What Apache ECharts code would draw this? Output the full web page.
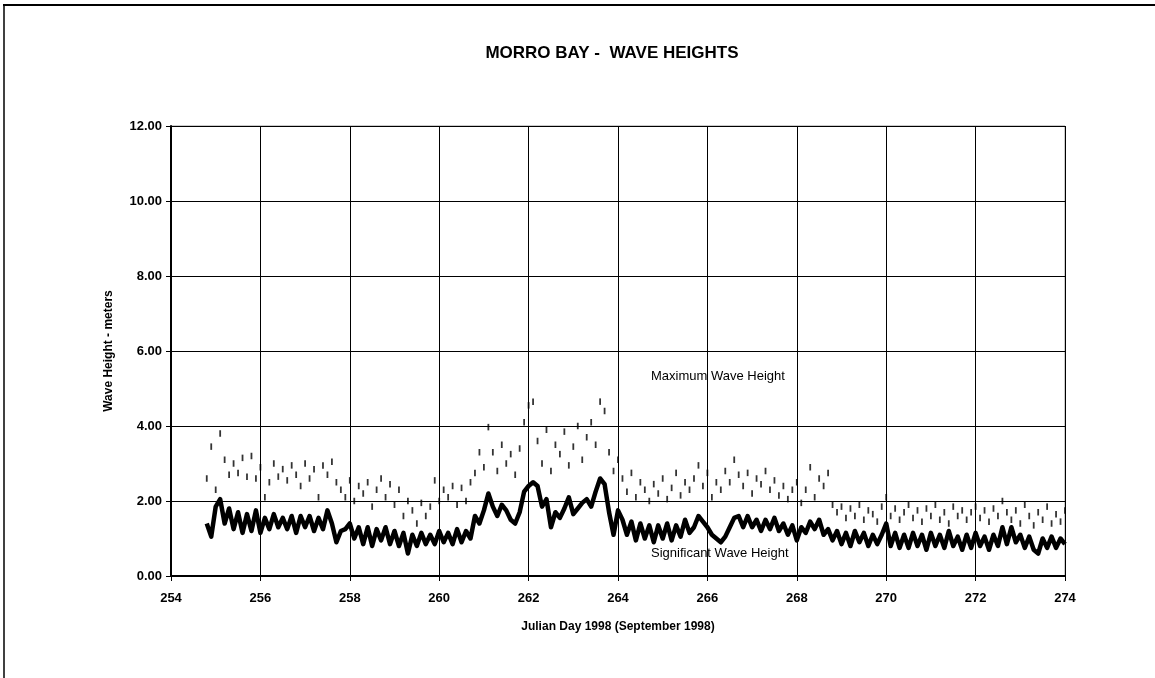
<!DOCTYPE html>
<html>
<head>
<meta charset="utf-8">
<script src="https://cdn.jsdelivr.net/npm/echarts@6/dist/echarts.min.js"></script>
<style>html,body{margin:0;padding:0;background:#fff;}#c{width:1155px;height:678px;}</style>
</head>
<body>
<div id="c"></div>
<script>
// Sampling: Julian day 254.8 to 274.0, every 0.1 day
const startDay = 254.8;
const stepDay = 0.1;
const xTicks = [254, 256, 258, 260, 262, 264, 266, 268, 270, 272, 274];
const yTicks = [0, 2, 4, 6, 8, 10, 12];

const significantHeight = [
  1.4, 1.05, 1.85, 2.05, 1.4, 1.8, 1.25, 1.7, 1.15, 1.65,
  1.2, 1.75, 1.15, 1.55, 1.25, 1.65, 1.3, 1.55, 1.25, 1.6,
  1.15, 1.6, 1.3, 1.6, 1.2, 1.55, 1.25, 1.75, 1.4, 0.9,
  1.2, 1.25, 1.4, 1.0, 1.3, 0.85, 1.3, 0.8, 1.25, 0.95,
  1.3, 0.85, 1.2, 0.8, 1.15, 0.6, 1.1, 0.8, 1.15, 0.85,
  1.1, 0.85, 1.2, 0.9, 1.15, 0.85, 1.25, 0.9, 1.2, 1.0,
  1.6, 1.4, 1.75, 2.2, 1.85, 1.6, 1.9, 1.75, 1.5, 1.4,
  1.7, 2.25, 2.4, 2.5, 2.4, 1.85, 2.05, 1.3, 1.7, 1.55,
  1.8, 2.1, 1.65, 1.8, 1.95, 2.05, 1.85, 2.25, 2.6, 2.45,
  1.7, 1.1, 1.75, 1.5, 1.1, 1.45, 0.95, 1.4, 1.0, 1.35,
  0.9, 1.35, 1.0, 1.4, 0.95, 1.35, 1.05, 1.5, 1.15, 1.3,
  1.6, 1.45, 1.3, 1.1, 1.0, 0.9, 1.05, 1.3, 1.55, 1.6,
  1.3, 1.6, 1.3, 1.5, 1.2, 1.5, 1.25, 1.55, 1.2, 1.4,
  1.1, 1.35, 0.95, 1.3, 1.15, 1.45, 1.25, 1.5, 1.1, 1.25,
  0.95, 1.2, 0.85, 1.15, 0.8, 1.2, 0.9, 1.15, 0.8, 1.1,
  0.85, 1.1, 1.4, 0.8, 1.15, 0.75, 1.1, 0.75, 1.15, 0.8,
  1.1, 0.7, 1.15, 0.8, 1.1, 0.75, 1.2, 0.8, 1.05, 0.7,
  1.1, 0.75, 1.15, 0.8, 1.05, 0.7, 1.1, 0.8, 1.3, 0.85,
  1.3, 0.9, 1.1, 0.75, 1.05, 0.7, 0.6, 1.0, 0.75, 1.05,
  0.75, 1.0, 0.85
];

const maximumHeight = [
  2.6, 3.45, 2.3, 3.8, 3.1, 2.7, 3.0, 2.75, 3.15, 2.65,
  3.2, 2.6, 2.9, 2.1, 2.5, 3.0, 2.65, 2.85, 2.55, 2.95,
  2.7, 2.4, 3.0, 2.6, 2.85, 2.1, 2.95, 2.7, 3.05, 2.5,
  2.3, 2.1, 2.55, 2.0, 2.4, 2.2, 2.5, 1.85, 2.3, 2.6,
  2.1, 2.45, 1.9, 2.3, 1.6, 2.0, 1.75, 1.4, 1.95, 1.6,
  1.85, 2.55, 2.0, 2.3, 2.1, 2.4, 1.9, 2.35, 2.0, 2.5,
  2.75, 3.3, 2.9, 3.97, 3.3, 2.8, 3.5, 3.0, 3.25, 2.7,
  3.4, 4.1, 4.55, 4.65, 3.6, 3.0, 3.9, 2.8, 3.5, 3.25,
  3.85, 2.95, 3.45, 4.0, 3.1, 3.7, 4.1, 3.5, 4.65, 4.4,
  3.3, 2.8, 3.1, 2.6, 2.25, 2.75, 2.1, 2.5, 2.3, 2.0,
  2.45, 2.2, 2.6, 2.05, 2.35, 2.75, 2.15, 2.5, 2.3, 2.6,
  2.95, 2.4, 2.75, 2.1, 2.5, 2.3, 2.8, 2.5, 3.1, 2.7,
  2.4, 2.75, 2.2, 2.6, 2.45, 2.8, 2.3, 2.55, 2.15, 2.4,
  2.05, 2.3, 2.5, 1.95, 2.3, 2.9, 2.1, 2.6, 2.4, 2.75,
  1.9, 1.7, 1.85, 1.55, 1.8, 1.6, 1.9, 1.5, 1.75, 1.65,
  1.45, 1.85, 2.1, 1.6, 1.8, 1.5, 1.7, 1.9, 1.55, 1.75,
  1.45, 1.8, 1.6, 1.9, 1.5, 1.7, 1.4, 1.85, 1.6, 1.75,
  1.5, 1.7, 1.85, 1.55, 1.75, 1.45, 1.8, 1.6, 2.0, 1.7,
  1.5, 1.75, 1.4, 1.9, 1.6, 1.35, 1.7, 1.5, 1.85, 1.4,
  1.65, 1.45, 1.75
];

const days = significantHeight.map((_, i) => +(startDay + i * stepDay).toFixed(2));
const sigData = days.map((d, i) => [d, significantHeight[i]]);
const maxData = days.map((d, i) => [d, maximumHeight[i]]);

const FONT = "'Liberation Sans', Arial, sans-serif";
const chart = echarts.init(document.getElementById('c'), null, {renderer: 'canvas'});
chart.setOption({
  backgroundColor: '#ffffff',
  animation: false,
  title: {
    text: 'MORRO BAY -  WAVE HEIGHTS',
    left: 607, top: 40, textAlign: 'center',
    textStyle: {fontFamily: FONT, fontSize: 17, fontWeight: 'bold', color: '#000'}
  },
  grid: {left: 171, right: 90, top: 126, bottom: 102, show: true, borderColor: '#999', borderWidth: 1},
  xAxis: {
    type: 'value', min: 254, max: 274, interval: 2,
    name: 'Julian Day 1998 (September 1998)', nameLocation: 'middle', nameGap: 45,
    nameTextStyle: {fontFamily: FONT, fontSize: 12, fontWeight: 'bold', color: '#000'},
    axisLine: {show: true, onZero: false, lineStyle: {color: '#000', width: 2}},
    axisTick: {show: true, length: 5, inside: false, lineStyle: {color: '#000'}},
    axisLabel: {margin: 16, fontFamily: FONT, fontSize: 13, fontWeight: 'bold', color: '#000',
      formatter: v => xTicks.includes(v) ? String(v) : ''},
    splitLine: {show: true, lineStyle: {color: '#000', width: 1}}
  },
  yAxis: {
    type: 'value', min: 0, max: 12, interval: 2,
    name: 'Wave Height - meters', nameLocation: 'middle', nameGap: 56, nameRotate: 90,
    nameTextStyle: {fontFamily: FONT, fontSize: 12, fontWeight: 'bold', color: '#000'},
    axisLine: {show: true, onZero: false, lineStyle: {color: '#000', width: 2}},
    axisTick: {show: true, length: 5, lineStyle: {color: '#000'}},
    axisLabel: {margin: 9, fontFamily: FONT, fontSize: 13, fontWeight: 'bold', color: '#000',
      formatter: v => yTicks.includes(v) ? v.toFixed(2) : ''},
    splitLine: {show: true, lineStyle: {color: '#000', width: 1}}
  },
  series: [
    {
      name: 'Maximum Wave Height', type: 'scatter', data: maxData,
      symbol: 'rect', symbolSize: [1.8, 6.5],
      itemStyle: {color: '#000'}, z: 3
    },
    {
      name: 'Significant Wave Height', type: 'line', data: sigData,
      showSymbol: false, symbol: 'none',
      lineStyle: {color: '#000', width: 4.5, join: 'round'}, z: 4
    }
  ],
  graphic: [
    {type: 'line', shape: {x1: 3, y1: 5, x2: 1155, y2: 5}, style: {stroke: '#000', lineWidth: 2}},
    {type: 'line', shape: {x1: 4, y1: 5, x2: 4, y2: 678}, style: {stroke: '#000', lineWidth: 1.5}},
    {type: 'text', left: 651, top: 370, style: {text: 'Maximum Wave Height', font: "13px 'Liberation Sans', Arial, sans-serif", fill: '#000'}},
    {type: 'text', left: 651, top: 547, style: {text: 'Significant Wave Height', font: "13px 'Liberation Sans', Arial, sans-serif", fill: '#000'}}
  ]
});
</script>
</body>
</html>
